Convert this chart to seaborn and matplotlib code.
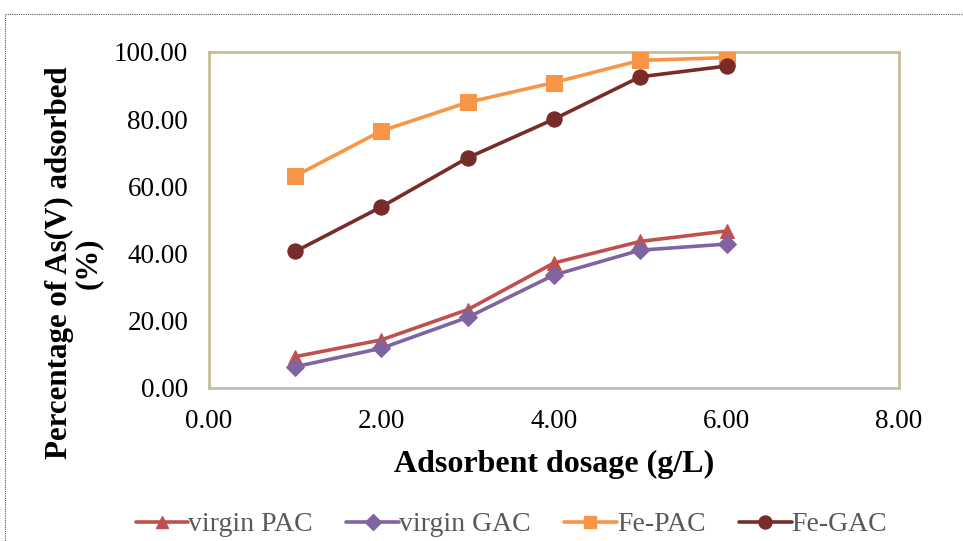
import matplotlib
matplotlib.use("Agg")
import matplotlib.pyplot as plt
import seaborn as sns
import pandas as pd
from matplotlib.lines import Line2D
from matplotlib.patches import Rectangle

dosage = [1.0, 2.0, 3.0, 4.0, 5.0, 6.0]
virgin_pac = [9.3, 14.3, 23.3, 37.2, 43.6, 46.7]
virgin_gac = [6.3, 11.8, 21.0, 33.6, 41.0, 42.8]
fe_pac = [63.1, 76.5, 85.0, 90.9, 97.5, 98.3]
fe_gac = [40.6, 53.9, 68.5, 80.0, 92.6, 95.8]

series = ["virgin PAC", "virgin GAC", "Fe-PAC", "Fe-GAC"]
values = [virgin_pac, virgin_gac, fe_pac, fe_gac]
colors = ["#c0504d", "#8064a2", "#f79646", "#772c2a"]
markers = ["^", "D", "s", "o"]
msizes = [10, 9, 11, 11]

rows = []
for name, vals in zip(series, values):
    for x, y in zip(dosage, vals):
        rows.append({"dosage": x, "pct": y, "series": name})
df = pd.DataFrame(rows)

sns.set_theme(style="white")
plt.rcParams["font.family"] = ["Liberation Serif", "DejaVu Serif"]

fig = plt.figure(figsize=(9.63, 5.41), dpi=100)
ax = fig.add_axes([0.217, 0.283, 0.7166, 0.621])

for name, c, m, ms in zip(series, colors, markers, msizes):
    sub = df[df["series"] == name]
    sns.lineplot(data=sub, x="dosage", y="pct", ax=ax, color=c, marker=m,
                 markersize=ms, markeredgecolor=c, linewidth=2.6,
                 legend=False, zorder=3)

ax.set_xlim(0, 8)
ax.set_ylim(0, 100)
ax.set_xticks([0, 2, 4, 6, 8])
ax.set_yticks([0, 20, 40, 60, 80, 100])
ax.set_xticklabels([f"{v:.2f}" for v in [0, 2, 4, 6, 8]])
ax.set_yticklabels([f"{v:.2f}" for v in [0, 20, 40, 60, 80, 100]])
ax.tick_params(axis="y", labelsize=19.5, colors="black", length=0, pad=15)
ax.tick_params(axis="x", labelsize=19.5, colors="black", length=0, pad=15)

for side in ["top", "right", "left"]:
    ax.spines[side].set_color("#c4bd97")
    ax.spines[side].set_linewidth(2)
ax.spines["bottom"].set_color("#bfbfb5")
ax.spines["bottom"].set_linewidth(2)

ax.set_xlabel("Adsorbent dosage (g/L)", fontsize=23, fontweight="bold",
              color="black", labelpad=12)
ax.set_ylabel("")
fig.text(74 / 963, 1 - 263 / 541, "Percentage of As(V) adsorbed\n(%)",
         rotation=90, ha="center", va="center", multialignment="center",
         fontsize=22.3, fontweight="bold", color="black", linespacing=1.0)

handles = [Line2D([0], [0], color=c, marker=m, markersize=ms * 0.85,
                  markeredgecolor=c, linewidth=2.6)
           for c, m, ms in zip(colors, markers, msizes)]
leg = fig.legend(handles, series, loc="center", bbox_to_anchor=(0.531, 0.03),
                 ncol=4, frameon=False, fontsize=20, handlelength=1.9,
                 handletextpad=0.0, columnspacing=1.2)
for t in leg.get_texts():
    t.set_color("#595959")

# dotted frame around the figure area
fig.patches.append(Rectangle((5 / 963, -0.05), 1.2, 1 - 14 / 541 + 0.05,
                             transform=fig.transFigure, fill=False,
                             edgecolor="#555555", linewidth=0.8,
                             linestyle=(0, (1, 1)), clip_on=False))

fig.savefig("out.png", dpi=100)
